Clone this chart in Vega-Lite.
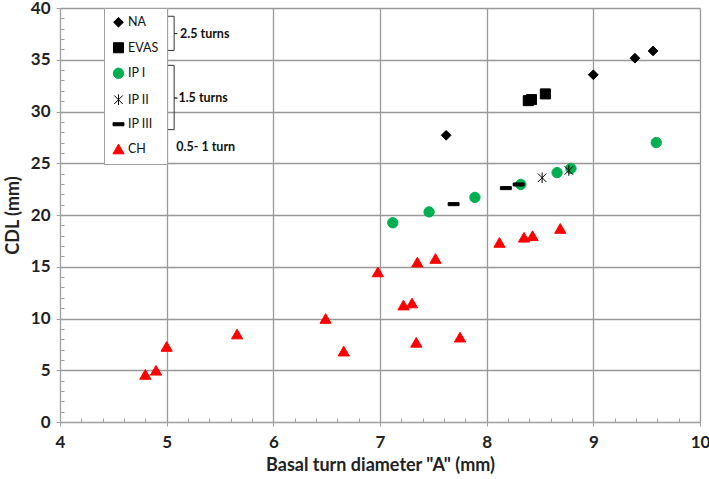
{
  "$schema": "https://vega.github.io/schema/vega-lite/v6.json",
  "width": 640,
  "height": 414,
  "autosize": {"type": "none"},
  "padding": {"left": 60, "top": 8, "right": 9, "bottom": 57},
  "background": "white",
  "config": {"view": {"stroke": null}},
  "resolve": {"axis": {"x": "independent", "y": "independent"}},
  "layer": [
    {
      "data": {"values": [
        {"b": "b1", "o": 1, "A": 5.00, "CDL": 39.2},
        {"b": "b1", "o": 2, "A": 5.07, "CDL": 39.2},
        {"b": "b1", "o": 3, "A": 5.07, "CDL": 37.53},
        {"b": "b1", "o": 4, "A": 5.10, "CDL": 37.53},
        {"b": "b1", "o": 5, "A": 5.07, "CDL": 37.53},
        {"b": "b1", "o": 6, "A": 5.07, "CDL": 35.9},
        {"b": "b1", "o": 7, "A": 5.00, "CDL": 35.9},
        {"b": "b2", "o": 1, "A": 5.00, "CDL": 34.46},
        {"b": "b2", "o": 2, "A": 5.07, "CDL": 34.46},
        {"b": "b2", "o": 3, "A": 5.07, "CDL": 31.3},
        {"b": "b2", "o": 4, "A": 5.10, "CDL": 31.3},
        {"b": "b2", "o": 5, "A": 5.07, "CDL": 31.3},
        {"b": "b2", "o": 6, "A": 5.07, "CDL": 28.25},
        {"b": "b2", "o": 7, "A": 5.00, "CDL": 28.25}
      ]},
      "mark": {"type": "line", "color": "#333333", "strokeWidth": 1},
      "encoding": {
        "x": {
          "field": "A", "type": "quantitative",
          "scale": {"domain": [4, 10], "nice": false, "zero": false},
          "axis": {
            "orient": "bottom", "title": null, "labels": false, "grid": false, "domain": false,
            "values": [4.2,4.4,4.6,4.8,5.2,5.4,5.6,5.8,6.2,6.4,6.6,6.8,7.2,7.4,7.6,7.8,8.2,8.4,8.6,8.8,9.2,9.4,9.6,9.8],
            "tickSize": -4, "tickColor": "#a0a0a0"
          }
        },
        "y": {
          "field": "CDL", "type": "quantitative",
          "scale": {"domain": [0, 40], "nice": false},
          "axis": {
            "orient": "left", "title": null, "labels": false, "grid": false, "domain": false,
            "values": [1,2,3,4,6,7,8,9,11,12,13,14,16,17,18,19,21,22,23,24,26,27,28,29,31,32,33,34,36,37,38,39],
            "tickSize": -4, "tickColor": "#a0a0a0"
          }
        },
        "detail": {"field": "b", "type": "nominal"},
        "order": {"field": "o", "type": "quantitative"}
      }
    },
    {
      "data": {"values": [
        {"group": "CH", "A": 4.80, "CDL": 4.6},
        {"group": "CH", "A": 4.90, "CDL": 5.0},
        {"group": "CH", "A": 5.00, "CDL": 7.3},
        {"group": "CH", "A": 5.66, "CDL": 8.5},
        {"group": "CH", "A": 6.49, "CDL": 10.0},
        {"group": "CH", "A": 6.66, "CDL": 6.85},
        {"group": "CH", "A": 6.98, "CDL": 14.5},
        {"group": "CH", "A": 7.22, "CDL": 11.3},
        {"group": "CH", "A": 7.30, "CDL": 11.5},
        {"group": "CH", "A": 7.34, "CDL": 7.7},
        {"group": "CH", "A": 7.35, "CDL": 15.45},
        {"group": "CH", "A": 7.52, "CDL": 15.8},
        {"group": "CH", "A": 7.75, "CDL": 8.2},
        {"group": "CH", "A": 8.12, "CDL": 17.35},
        {"group": "CH", "A": 8.35, "CDL": 17.85},
        {"group": "CH", "A": 8.43, "CDL": 18.0},
        {"group": "CH", "A": 8.69, "CDL": 18.7},
        {"group": "IP I", "A": 7.12, "CDL": 19.25},
        {"group": "IP I", "A": 7.46, "CDL": 20.3},
        {"group": "IP I", "A": 7.89, "CDL": 21.7},
        {"group": "IP I", "A": 8.32, "CDL": 22.95},
        {"group": "IP I", "A": 8.66, "CDL": 24.1},
        {"group": "IP I", "A": 8.79, "CDL": 24.5},
        {"group": "IP I", "A": 9.59, "CDL": 27.0},
        {"group": "IP III", "A": 7.69, "CDL": 21.05},
        {"group": "IP III", "A": 8.18, "CDL": 22.6},
        {"group": "IP III", "A": 8.30, "CDL": 22.95},
        {"group": "IP II", "A": 8.52, "CDL": 23.6},
        {"group": "IP II", "A": 8.77, "CDL": 24.3},
        {"group": "NA", "A": 7.62, "CDL": 27.7},
        {"group": "NA", "A": 9.00, "CDL": 33.55},
        {"group": "NA", "A": 9.39, "CDL": 35.15},
        {"group": "NA", "A": 9.56, "CDL": 35.85},
        {"group": "EVAS", "A": 8.39, "CDL": 31.05},
        {"group": "EVAS", "A": 8.42, "CDL": 31.15},
        {"group": "EVAS", "A": 8.55, "CDL": 31.7}
      ]},
      "mark": {"type": "point", "filled": true, "opacity": 1, "strokeWidth": 1},
      "encoding": {
        "x": {
          "field": "A", "type": "quantitative",
          "scale": {"domain": [4, 10], "nice": false, "zero": false},
          "axis": {
            "orient": "bottom",
            "title": "Basal turn diameter \"A\" (mm)",
            "titleFont": "Lato", "titleFontSize": 18, "titleFontWeight": "bold", "titleColor": "#222", "titlePadding": 6,
            "values": [4,5,6,7,8,9,10], "format": "d",
            "labelFont": "Lato", "labelFontSize": 17, "labelFontWeight": "bold", "labelColor": "#222", "labelPadding": 8,
            "labelFlush": false, "labelOverlap": false,
            "domainColor": "#a0a0a0", "tickColor": "#a0a0a0", "tickSize": 4,
            "grid": true, "gridColor": "#999999", "gridWidth": 1.3, "gridOpacity": 1
          }
        },
        "y": {
          "field": "CDL", "type": "quantitative",
          "scale": {"domain": [0, 40], "nice": false},
          "axis": {
            "orient": "left",
            "title": "CDL (mm)",
            "titleFont": "Lato", "titleFontSize": 18, "titleFontWeight": "bold", "titleColor": "#222", "titlePadding": 8,
            "values": [0,5,10,15,20,25,30,35,40],
            "labelFont": "Lato", "labelFontSize": 17, "labelFontWeight": "bold", "labelColor": "#222", "labelPadding": 6,
            "labelFlush": false, "labelOverlap": false,
            "domainColor": "#a0a0a0", "tickColor": "#a0a0a0", "tickSize": 4,
            "grid": true, "gridColor": "#999999", "gridWidth": 1.3, "gridOpacity": 1
          }
        },
        "shape": {
          "field": "group", "type": "nominal",
          "scale": {
            "domain": ["NA", "EVAS", "IP I", "IP II", "IP III", "CH"],
            "range": ["diamond", "square", "circle", "M0,-1L0,1M-0.8,-0.8L0.8,0.8M-0.8,0.8L0.8,-0.8", "M-1,-0.28L1,-0.28L1,0.28L-1,0.28Z", "triangle-up"]
          },
          "legend": {
            "title": null, "orient": "none", "legendX": 44, "legendY": 0,
            "fillColor": "white", "strokeColor": "#a0a0a0", "padding": 8,
            "labelFont": "Lato", "labelFontSize": 12.5, "labelColor": "#111",
            "symbolSize": 50, "symbolStrokeWidth": 1, "rowPadding": 10.5, "labelOffset": 3,
            "encode": {"symbols": {"update": {"stroke": {"scale": "color", "field": "value"}}}}
          }
        },
        "color": {
          "field": "group", "type": "nominal",
          "scale": {
            "domain": ["NA", "EVAS", "IP I", "IP II", "IP III", "CH"],
            "range": ["#000000", "#000000", "#00b050", "#000000", "#000000", "#ff0000"]
          },
          "legend": {
            "title": null, "orient": "none", "legendX": 44, "legendY": 0,
            "fillColor": "white", "strokeColor": "#a0a0a0", "padding": 8,
            "labelFont": "Lato", "labelFontSize": 12.5, "labelColor": "#111",
            "symbolSize": 50, "symbolStrokeWidth": 1, "rowPadding": 10.5, "labelOffset": 3,
            "encode": {"symbols": {"update": {"stroke": {"scale": "color", "field": "value"}}}}
          }
        },
        "stroke": {
          "field": "group", "type": "nominal",
          "scale": {
            "domain": ["NA", "EVAS", "IP I", "IP II", "IP III", "CH"],
            "range": ["#000000", "#000000", "#00b050", "#000000", "#000000", "#ff0000"]
          },
          "legend": null
        },
        "size": {
          "field": "group", "type": "nominal",
          "scale": {
            "domain": ["NA", "EVAS", "IP I", "IP II", "IP III", "CH"],
            "range": [95, 125, 130, 180, 150, 140]
          },
          "legend": null
        }
      }
    },
    {
      "data": {"values": [
        {"A": 5.125, "CDL": 37.53, "label": "2.5 turns"},
        {"A": 5.11, "CDL": 31.3, "label": "1.5 turns"},
        {"A": 5.09, "CDL": 26.57, "label": "0.5- 1 turn"}
      ]},
      "mark": {"type": "text", "align": "left", "baseline": "middle", "font": "Lato", "fontSize": 12.5, "fontWeight": "bold", "color": "#111"},
      "encoding": {
        "x": {"field": "A", "type": "quantitative", "axis": null},
        "y": {"field": "CDL", "type": "quantitative", "axis": null},
        "text": {"field": "label", "type": "nominal"}
      }
    }
  ]
}
